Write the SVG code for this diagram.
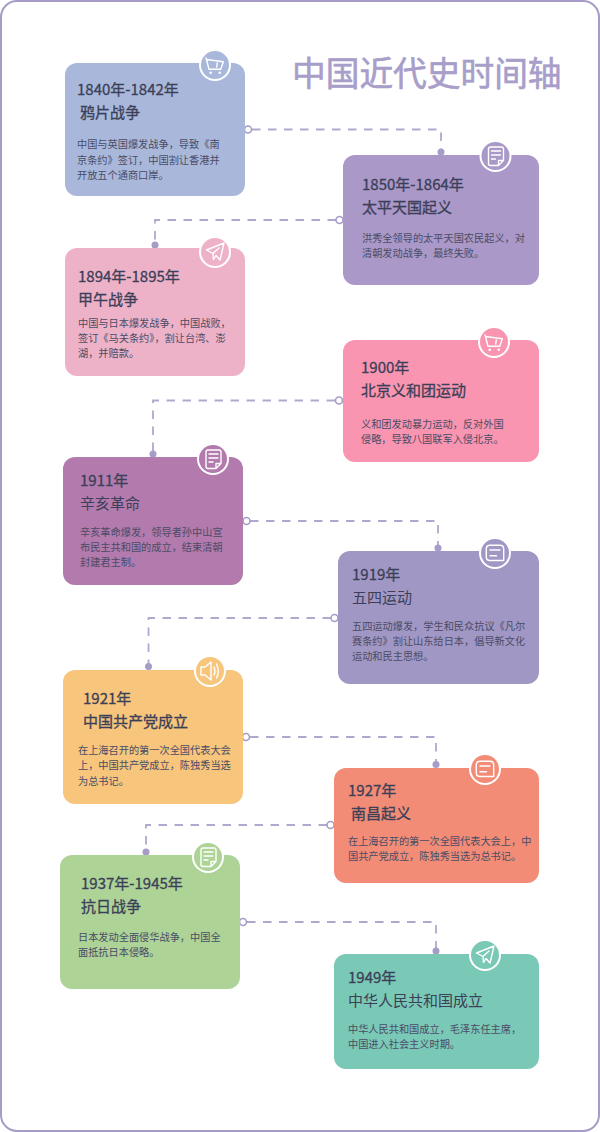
<svg xmlns="http://www.w3.org/2000/svg" width="600" height="1132" viewBox="0 0 600 1132">
<style>
text{font-family:"Noto Sans CJK SC","Noto Sans",sans-serif;fill:#3b3f57}
.t{font-size:33.7px;fill:#a79ec9;stroke:#a79ec9;stroke-width:.6}
.y{font-size:15px;stroke:#3b3f57;stroke-width:.3}
.n{font-size:15px}
.d{font-size:10.2px;fill:#4a4c66}
.c{fill:none;stroke:#b1a8cf;stroke-width:1.8;stroke-dasharray:8.500 7.500}
.h{fill:#fff;stroke:#a79cc7;stroke-width:1.6}
.f{fill:#a79cc7}
.r{stroke:none}
.b{stroke:#fff;stroke-width:2}
.i{fill:none;stroke:#fff;stroke-width:1.4;stroke-linejoin:round;stroke-linecap:round}
</style>
<defs>
<g id="cart" class="i"><path d="M-9-7L-8.500-5.500L8.300-3.300L5.700 4.300L-6 4.300L-8.500-5.500M2.300-2L1.700 2"/><circle cx="-4.300" cy="7.700" r=".6"/><circle cx="4.700" cy="7.700" r=".6"/></g>
<g id="doc" class="i"><path d="M3 9.500L-5 9.500Q-7 9.500-7 7.500L-7-7Q-7-9-5-9L6-9Q8-9 8-7L8 4.500L3 9.500L3 4.500L8 4.500M-4-5L5-5M-4-1L5-1M-4 3L0 3"/></g>
<g id="plane" class="i"><path d="M9-9L-8.500-2L-2 1.500L-1.500 7.500L1 3.500L5 8ZM-2 1.500L4-4"/></g>
<g id="msg" class="i"><path d="M5 7.500L-5 7.500Q-8.700 7.500-8.700 4L-8.700-4Q-8.700-7.700-5-7.700L5-7.700Q8.700-7.700 8.700-4L8.700 4L8.700 7.500ZM-5-3L5-3M-5 2.700L1.500 2.700"/></g>
<g id="sound" class="i"><path d="M-9-4L-5-4L1-9L1 9L-5 4L-9 4ZM4-4Q6 0 4 4M6.500-7Q10 0 6.500 7"/></g>
</defs>
<rect x="1" y="1" width="598" height="1130" rx="16" fill="#fff" stroke="#a79cc7" stroke-width="2"/>
<text class="t" x="292" y="86">中国近代史时间轴</text>

<g id="connectors">
<path class="c" d="M252 129.500H441V150"/><circle class="h" cx="248" cy="129.500" r="3.500"/><circle class="f" cx="441" cy="152" r="3.500"/>
<path class="c" d="M336 220H155V243"/><circle class="h" cx="339.500" cy="220" r="3.500"/><circle class="f" cx="155" cy="245" r="3.500"/>
<path class="c" d="M335 400.500H153V452"/><circle class="h" cx="339" cy="400.500" r="3.500"/><circle class="f" cx="153" cy="454" r="3.500"/>
<path class="c" d="M250 521H438V546"/><circle class="h" cx="246.500" cy="521" r="3.500"/><circle class="f" cx="438" cy="548" r="3.500"/>
<path class="c" d="M331 618H148.500V665"/><circle class="h" cx="334.500" cy="618" r="3.500"/><circle class="f" cx="148.500" cy="666.500" r="3.500"/>
<path class="c" d="M250 737H436V763"/><circle class="h" cx="246" cy="737" r="3.500"/><circle class="f" cx="436" cy="764.500" r="3.500"/>
<path class="c" d="M327 825H146V850"/><circle class="h" cx="330.500" cy="825" r="3.500"/><circle class="f" cx="146" cy="852" r="3.500"/>
<path class="c" d="M247 922H436V949"/><circle class="h" cx="243" cy="922" r="3.500"/><circle class="f" cx="436" cy="951" r="3.500"/>
</g>

<g id="n1"><rect class="r" x="65" y="63" width="180" height="133" rx="12" fill="#a9b8da"/><circle class="b" cx="215" cy="65" r="15" fill="#a9b8da"/><use href="#cart" x="215" y="65"/>
<text class="y" x="77" y="95">1840年-1842年</text><text class="y" x="80" y="118">鸦片战争</text>
<text class="d" x="77" y="148">中国与英国爆发战争，导致《南</text><text class="d" x="77" y="163.500">京条约》签订，中国割让香港并</text><text class="d" x="77" y="179">开放五个通商口岸。</text></g>

<g id="n2"><rect class="r" x="343" y="155" width="196" height="130" rx="12" fill="#a998c8"/><circle class="b" cx="495.500" cy="156" r="15" fill="#a998c8"/><use href="#doc" x="495.500" y="156"/>
<text class="y" x="362" y="190">1850年-1864年</text><text class="y" x="362" y="213">太平天国起义</text>
<text class="d" x="362" y="242">洪秀全领导的太平天国农民起义，对</text><text class="d" x="362" y="257">清朝发动战争，最终失败。</text></g>

<g id="n3"><rect class="r" x="65" y="248" width="180" height="128" rx="12" fill="#eeb2c8"/><circle class="b" cx="215" cy="252" r="15" fill="#eeb2c8"/><use href="#plane" x="215" y="252"/>
<text class="y" x="78" y="282">1894年-1895年</text><text class="y" x="78" y="305">甲午战争</text>
<text class="d" x="78" y="327">中国与日本爆发战争，中国战败，</text><text class="d" x="78" y="342">签订《马关条约》，割让台湾、澎</text><text class="d" x="78" y="357">湖，并赔款。</text></g>

<g id="n4"><rect class="r" x="343" y="340" width="196" height="122" rx="12" fill="#f995b0"/><circle class="b" cx="494" cy="342" r="15" fill="#f995b0"/><use href="#cart" x="494" y="342"/>
<text class="y" x="361" y="373">1900年</text><text class="y" x="361" y="396">北京义和团运动</text>
<text class="d" x="361" y="428">义和团发动暴力运动，反对外国</text><text class="d" x="361" y="443">侵略，导致八国联军入侵北京。</text></g>

<g id="n5"><rect class="r" x="63" y="457" width="180" height="128" rx="12" fill="#b27aad"/><circle class="b" cx="213" cy="459" r="15" fill="#b27aad"/><use href="#doc" x="213" y="459"/>
<text class="y" x="80" y="486">1911年</text><text class="n" x="80" y="509">辛亥革命</text>
<text class="d" x="80" y="536">辛亥革命爆发，领导者孙中山宣</text><text class="d" x="80" y="551">布民主共和国的成立，结束清朝</text><text class="d" x="80" y="566">封建君主制。</text></g>

<g id="n6"><rect class="r" x="338" y="551" width="201" height="133" rx="12" fill="#a197c4"/><circle class="b" cx="495" cy="553" r="15" fill="#a197c4"/><use href="#msg" x="495" y="553"/>
<text class="y" x="352" y="580">1919年</text><text class="n" x="352" y="603">五四运动</text>
<text class="d" x="352" y="630">五四运动爆发，学生和民众抗议《凡尔</text><text class="d" x="352" y="645">赛条约》割让山东给日本，倡导新文化</text><text class="d" x="352" y="660">运动和民主思想。</text></g>

<g id="n7"><rect class="r" x="63" y="670" width="180" height="134" rx="12" fill="#f7c57b"/><circle class="b" cx="210" cy="671" r="15" fill="#f7c57b"/><use href="#sound" x="210" y="671"/>
<text class="y" x="83" y="704">1921年</text><text class="y" x="83" y="727">中国共产党成立</text>
<text class="d" x="78" y="754">在上海召开的第一次全国代表大会</text><text class="d" x="78" y="769">上，中国共产党成立，陈独秀当选</text><text class="d" x="78" y="785">为总书记。</text></g>

<g id="n8"><rect class="r" x="334" y="768" width="205" height="115" rx="12" fill="#f38c76"/><circle class="b" cx="485" cy="769" r="15" fill="#f38c76"/><use href="#msg" x="485" y="769"/>
<text class="y" x="348" y="796">1927年</text><text class="y" x="351" y="819">南昌起义</text>
<text class="d" x="348" y="845">在上海召开的第一次全国代表大会上，中</text><text class="d" x="348" y="860">国共产党成立，陈独秀当选为总书记。</text></g>

<g id="n9"><rect class="r" x="60" y="855" width="180" height="134" rx="12" fill="#add397"/><circle class="b" cx="208" cy="857" r="15" fill="#add397"/><use href="#doc" x="208" y="857"/>
<text class="y" x="81" y="889">1937年-1945年</text><text class="y" x="81" y="912">抗日战争</text>
<text class="d" x="78" y="941">日本发动全面侵华战争，中国全</text><text class="d" x="78" y="956">面抵抗日本侵略。</text></g>

<g id="n10"><rect class="r" x="334" y="954" width="205" height="115" rx="12" fill="#7ac8b6"/><circle class="b" cx="485" cy="955" r="15" fill="#7ac8b6"/><use href="#plane" x="485" y="955"/>
<text class="y" x="348" y="983">1949年</text><text class="n" x="348" y="1006">中华人民共和国成立</text>
<text class="d" x="348" y="1033">中华人民共和国成立，毛泽东任主席，</text><text class="d" x="348" y="1048">中国进入社会主义时期。</text></g>
</svg>
